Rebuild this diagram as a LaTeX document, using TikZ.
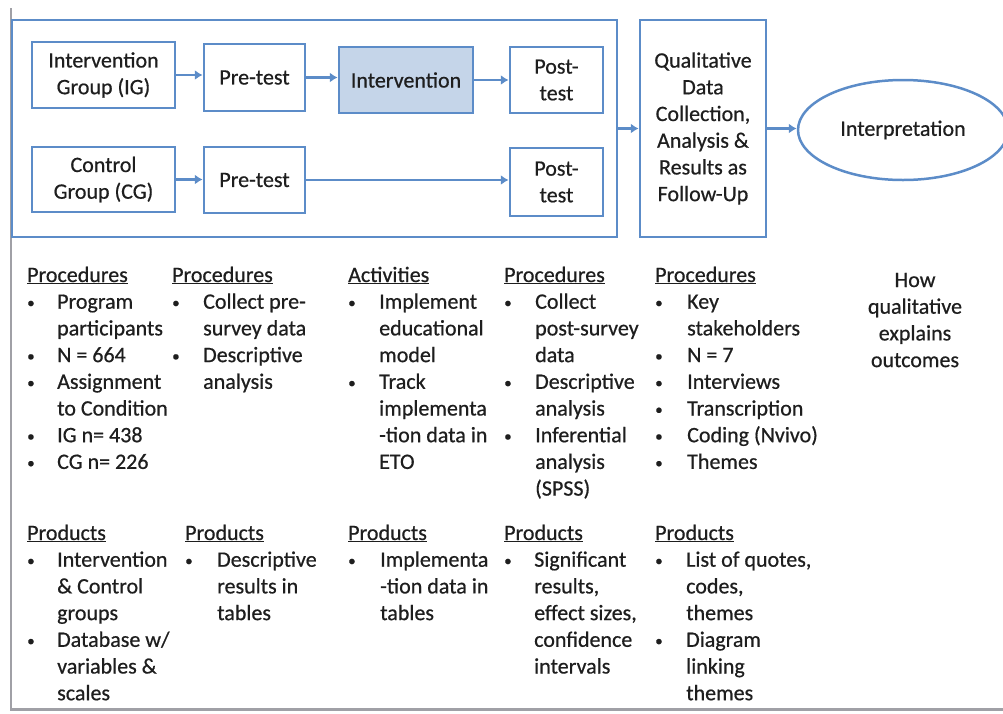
\documentclass[tikz,border=0pt]{standalone}
\usepackage{fontspec}
\setmainfont[FakeBold=0.6]{Carlito}
\usetikzlibrary{arrows.meta,shapes.geometric}
\definecolor{bblue}{RGB}{92,140,200}
\definecolor{bfill}{RGB}{197,213,233}
\definecolor{grayline}{RGB}{160,160,166}
\definecolor{txt}{RGB}{30,30,30}
\newcommand\bul{\raisebox{1pt}{\fontsize{15}{15}\selectfont\textbullet}}
\begin{document}
\begin{tikzpicture}[x=1pt,y=-1pt,
  every node/.style={font=\fontsize{22}{26.7}\selectfont, text=txt},
  box/.style={draw=bblue, line width=2.5pt, align=center, inner sep=0},
  arr/.style={draw=bblue, line width=2.5pt, -{Latex[length=8pt,width=10pt]}},
  list/.style={anchor=base west, inner sep=0}]
\useasboundingbox (0,0) rectangle (1003,713);
\draw[grayline, line width=2.5pt] (11,8) -- (11,709.5) -- (1003,709.5);

% frames
\node[box, minimum width=605pt, minimum height=217pt] (outer) at (314.5,128.5) {};
\node[box, minimum width=126pt, minimum height=217pt] (qual) at (703,128.5)
  {Qualitative\\Data\\Collection,\\Analysis \&\\Results as\\Follow-Up};
\node[ellipse, draw=bblue, line width=2.5pt, minimum width=210pt, minimum height=100pt, inner sep=0] (interp) at (903,130) {Interpretation};

% top row
\node[box, minimum width=143pt, minimum height=66pt] (ig) at (103.5,75) {Intervention\\Group (IG)};
\node[box, minimum width=101pt, minimum height=67pt] (pre1) at (254.5,77.5) {Pre-test};
\node[box, fill=bfill, minimum width=134pt, minimum height=66pt] (int) at (406,80) {Intervention};
\node[box, minimum width=93pt, minimum height=66pt] (post1) at (556.5,80) {Post-\\test};
% bottom row
\node[box, minimum width=143pt, minimum height=65pt] (cg) at (103.5,179.5) {Control\\Group (CG)};
\node[box, minimum width=101pt, minimum height=66pt] (pre2) at (254.5,180) {Pre-test};
\node[box, minimum width=93pt, minimum height=68pt] (post2) at (556.5,182) {Post-\\test};

% arrows
\draw[arr] (ig.east) -- (ig.east -| pre1.west);
\draw[arr] (pre1.east) -- (pre1.east -| int.west);
\draw[arr] (int.east) -- (int.east -| post1.west);
\draw[arr] (cg.east) -- (cg.east -| pre2.west);
\draw[arr] (pre2.east) -- (pre2.east -| post2.west);
\draw[arr] (outer.east) -- (outer.east -| qual.west);
\draw[arr] (qual.east) -- (qual.east -| interp.west);

% procedures row
\node[list] (c1) at (27,282) {\begin{tabular}[t]{@{}p{30pt}@{}l@{}}
\multicolumn{2}{@{}l@{}}{\underline{Procedures}}\\
\bul & Program\\ & participants\\
\bul & N = 664\\
\bul & Assignment\\ & to Condition\\
\bul & IG n= 438\\
\bul & CG n= 226
\end{tabular}};
\node[list] (c2) at (172,282) {\begin{tabular}[t]{@{}p{31pt}@{}l@{}}
\multicolumn{2}{@{}l@{}}{\underline{Procedures}}\\
\bul & Collect pre-\\ & survey data\\
\bul & Descriptive\\ & analysis
\end{tabular}};
\node[list] (c3) at (348,282) {\begin{tabular}[t]{@{}p{31pt}@{}l@{}}
\multicolumn{2}{@{}l@{}}{\underline{Activities}}\\
\bul & Implement\\ & educational\\ & model\\
\bul & Track\\ & implementa\\ & -tion data in\\ & ETO
\end{tabular}};
\node[list] (c4) at (504,282) {\begin{tabular}[t]{@{}p{31pt}@{}l@{}}
\multicolumn{2}{@{}l@{}}{\underline{Procedures}}\\
\bul & Collect\\ & post-survey\\ & data\\
\bul & Descriptive\\ & analysis\\
\bul & Inferential\\ & analysis\\ & (SPSS)
\end{tabular}};
\node[list] (c5) at (655,282) {\begin{tabular}[t]{@{}p{32pt}@{}l@{}}
\multicolumn{2}{@{}l@{}}{\underline{Procedures}}\\
\bul & Key\\ & stakeholders\\
\bul & N = 7\\
\bul & Interviews\\
\bul & Transcription\\
\bul & Coding (Nvivo)\\
\bul & Themes
\end{tabular}};
\node[anchor=base, inner sep=0] (how) at (915,287) {\begin{tabular}[t]{@{}c@{}}
How\\qualitative\\explains\\outcomes\end{tabular}};

% products row
\node[list] (d1) at (27,540) {\begin{tabular}[t]{@{}p{30pt}@{}l@{}}
\multicolumn{2}{@{}l@{}}{\underline{Products}}\\
\bul & Intervention\\ & \& Control\\ & groups\\
\bul & Database w/\\ & variables \&\\ & scales
\end{tabular}};
\node[list] (d2) at (185,540) {\begin{tabular}[t]{@{}p{32pt}@{}l@{}}
\multicolumn{2}{@{}l@{}}{\underline{Products}}\\
\bul & Descriptive\\ & results in\\ & tables
\end{tabular}};
\node[list] (d3) at (348,540) {\begin{tabular}[t]{@{}p{32pt}@{}l@{}}
\multicolumn{2}{@{}l@{}}{\underline{Products}}\\
\bul & Implementa\\ & -tion data in\\ & tables
\end{tabular}};
\node[list] (d4) at (504,540) {\begin{tabular}[t]{@{}p{30pt}@{}l@{}}
\multicolumn{2}{@{}l@{}}{\underline{Products}}\\
\bul & Significant\\ & results,\\ & effect sizes,\\ & confidence\\ & intervals
\end{tabular}};
\node[list] (d5) at (655,540) {\begin{tabular}[t]{@{}p{31pt}@{}l@{}}
\multicolumn{2}{@{}l@{}}{\underline{Products}}\\
\bul & List of quotes,\\ & codes,\\ & themes\\
\bul & Diagram\\ & linking\\ & themes
\end{tabular}};
\end{tikzpicture}
\end{document}
